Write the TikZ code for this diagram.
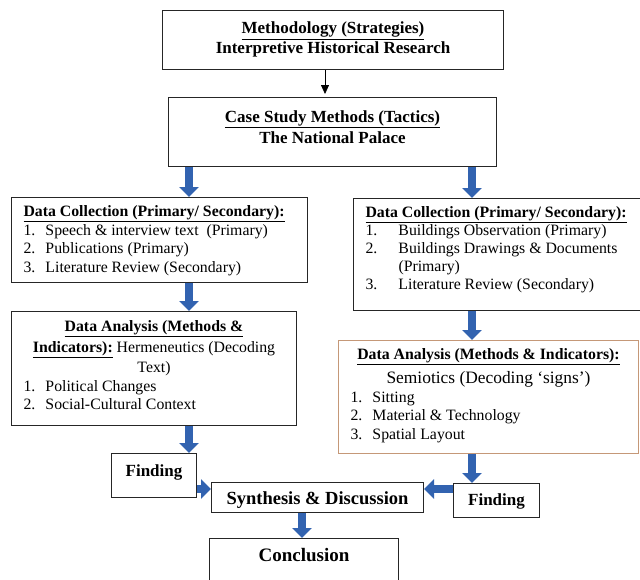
\documentclass[tikz,border=0pt]{standalone}
\usepackage{fontspec}
\setmainfont{Liberation Serif}
\usetikzlibrary{arrows.meta}
\definecolor{arrowblue}{RGB}{50,99,176}
\definecolor{tanline}{RGB}{197,152,120}
\newcommand{\itm}[3]{\makebox[#1][l]{#2}#3\par}
\newcommand{\panelbody}[4]{\parbox[c][#2][t]{#1}{\rule{0pt}{#3}#4}}
\begin{document}
\begin{tikzpicture}[x=1pt,y=-1pt,
    panel/.style={draw=black!85, line width=1pt, inner xsep=12pt, inner ysep=0pt, anchor=north west},
    body/.style={font=\fontsize{15.8}{18.5}\selectfont},
    heading/.style={font=\fontsize{17}{20}\selectfont\bfseries},
    bigarrow/.style={arrowblue, line width=8pt, -{Triangle[width=19pt,length=10pt]}},
    thinarrow/.style={line width=0.8pt, shorten >=3pt, -{Triangle[width=8pt,length=9pt]}}]
  \useasboundingbox (0,0) rectangle (640,579);

  \node[panel, heading] (meth) at (162,10)
    {\panelbody{317pt}{59pt}{23.3pt}{{\centering\underline{Methodology (Strategies)}\\Interpretive Historical Research\par}}};
  \node[panel, heading, font=\fontsize{17}{21.6}\selectfont\bfseries] (case) at (168,97)
    {\panelbody{304pt}{69pt}{24.7pt}{{\centering\underline{Case Study Methods (Tactics)}\\The National Palace\par}}};

  \node[panel, body] (dcL) at (11,197)
    {\panelbody{272pt}{85pt}{19pt}{\underline{\textbf{Data Collection (Primary/ Secondary):}}\par
      \itm{22pt}{1.}{Speech \& interview text\ \ (Primary)}
      \itm{22pt}{2.}{Publications (Primary)}
      \itm{22pt}{3.}{Literature Review (Secondary)}}};
  \node[panel, body] (daL) at (11,311)
    {\panelbody{261pt}{114pt}{20pt}{{\centering\fontsize{15.8}{20.7}\selectfont
      \underline{\textbf{Data Analysis (Methods \&}}\\\underline{\textbf{Indicators):}} Hermeneutics (Decoding\\Text)\par}
      \itm{22pt}{1.}{Political Changes}
      \itm{22pt}{2.}{Social-Cultural Context}}};

  \node[panel, body, font=\fontsize{15.8}{18}\selectfont] (dcR) at (353,198)
    {\panelbody{268pt}{112pt}{19.3pt}{\underline{\textbf{Data Collection (Primary/ Secondary):}}\par
      \itm{33pt}{1.}{Buildings Observation (Primary)}
      \itm{33pt}{2.}{Buildings Drawings \& Documents}
      \hspace*{33pt}(Primary)\par
      \itm{33pt}{3.}{Literature Review (Secondary)}}};
  \node[panel, body, draw=tanline] (daR) at (338,340)
    {\panelbody{276pt}{113pt}{19.3pt}{{\centering\underline{\textbf{Data Analysis (Methods \& Indicators):}}\par
      \fontsize{17.4}{24}\selectfont Semiotics (Decoding ‘signs’)\par}
      \itm{22pt}{1.}{Sitting}
      \itm{22pt}{2.}{Material \& Technology}
      \itm{22pt}{3.}{Spatial Layout}}};

  \node[panel, heading] (findL) at (111,453)
    {\panelbody{61pt}{44pt}{22.7pt}{\centering Finding\par}};
  \node[panel, heading, font=\fontsize{18.5}{22}\selectfont\bfseries] (synth) at (211,482)
    {\panelbody{188pt}{30pt}{22pt}{\centering Synthesis \& Discussion\par}};
  \node[panel, heading] (findR) at (453,483)
    {\panelbody{62pt}{34pt}{22pt}{\centering Finding\par}};
  \node[panel, heading, font=\fontsize{19}{22}\selectfont\bfseries] (concl) at (209,538)
    {\panelbody{165pt}{50pt}{22.7pt}{\centering Conclusion\par}};

  \coordinate (colT) at (325,0);
  \coordinate (colL) at (189,0);
  \coordinate (colR) at (472,0);
  \coordinate (colM) at (302,0);
  \coordinate (rowF) at (0,489);

  \draw[thinarrow] (meth.south -| colT) -- (case.north -| colT);
  \draw[bigarrow] (case.south -| colL) -- (dcL.north -| colL);
  \draw[bigarrow] (dcL.south -| colL) -- (daL.north -| colL);
  \draw[bigarrow] (daL.south -| colL) -- (findL.north -| colL);
  \draw[bigarrow] (case.south -| colR) -- (dcR.north -| colR);
  \draw[bigarrow] (dcR.south -| colR) -- (daR.north -| colR);
  \draw[bigarrow] (daR.south -| colR) -- (findR.north -| colR);
  \draw[bigarrow] (findL.east |- rowF) -- (synth.west |- rowF);
  \draw[bigarrow] (findR.west |- rowF) -- (synth.east |- rowF);
  \draw[bigarrow] (synth.south -| colM) -- (concl.north -| colM);
\end{tikzpicture}
\end{document}
